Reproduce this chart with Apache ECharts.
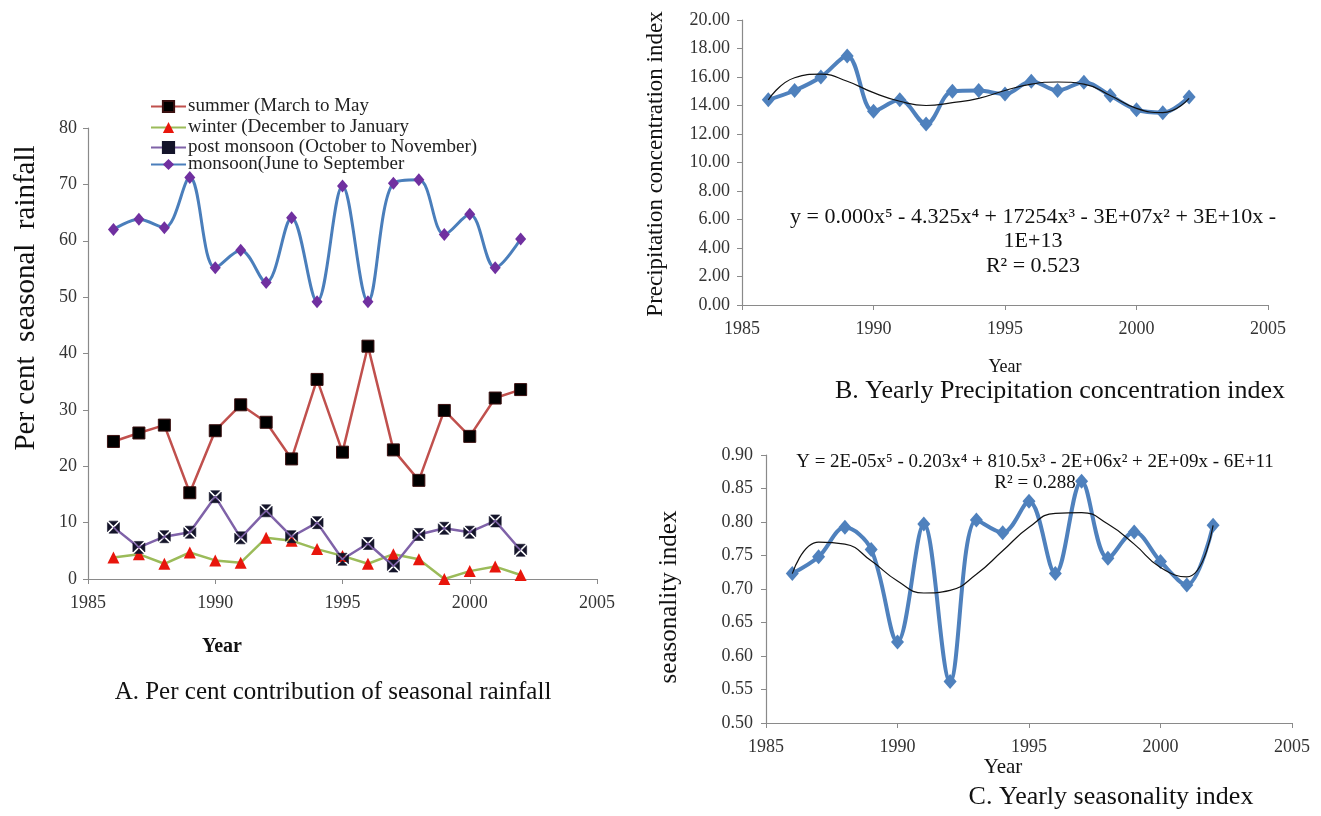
<!DOCTYPE html>
<html>
<head>
<meta charset="utf-8">
<script src="https://cdn.jsdelivr.net/npm/echarts@6/dist/echarts.min.js"></script>
<style>
html,body{margin:0;padding:0;background:#fff;}
#c{width:1321px;height:816px;}
</style>
</head>
<body>
<div id="c"></div>
<script>
// ---------- data ----------
const years = [1986,1987,1988,1989,1990,1991,1992,1993,1994,1995,1996,1997,1998,1999,2000,2001,2002];
const summer = [24.4,25.9,27.3,15.3,26.3,30.9,27.8,21.3,35.4,22.5,41.3,22.9,17.5,29.9,25.3,32.1,33.6];
const winter = [3.8,4.4,2.7,4.7,3.3,2.9,7.3,6.8,5.3,4.1,2.7,4.4,3.5,0.0,1.4,2.2,0.7];
const postMonsoon = [9.2,5.6,7.5,8.3,14.6,7.3,12.1,7.5,10.0,3.5,6.3,2.3,7.9,9.0,8.3,10.3,5.1];
const monsoon = [62.0,63.8,62.3,71.2,55.2,58.3,52.6,64.1,49.2,69.7,49.2,70.2,70.8,61.1,64.7,55.2,60.3];
const pci = [14.4,15.05,16.0,17.47,13.6,14.4,12.7,15.0,15.05,14.8,15.7,15.05,15.64,14.7,13.7,13.5,14.6];
const pciTrend = [14.4,15.95,16.2,15.7,14.9,14.3,14.0,14.2,14.5,15.05,15.5,15.65,15.5,14.7,13.8,13.5,14.5];
const si = [0.723,0.748,0.792,0.759,0.621,0.797,0.562,0.803,0.784,0.831,0.723,0.861,0.746,0.785,0.741,0.706,0.795];
const siTrend = [0.723,0.770,0.767,0.742,0.712,0.694,0.698,0.722,0.757,0.792,0.813,0.814,0.797,0.767,0.732,0.718,0.795];
const xTicks = [1985,1990,1995,2000,2005];
const legendNames = ['summer (March to May','winter (December to January','post monsoon (October to November)','monsoon(June to September'];

const pair = (ys) => years.map((y,i)=>[y, ys[i]]);
const FONT = "'Liberation Serif','Times New Roman',serif";
const axisCol = '#8a8a8a';
const labCol = '#333';

function xAxis(grid){
  return {type:'value', gridIndex:grid, min:xTicks[0], max:xTicks[xTicks.length-1], interval:5,
    axisLine:{show:true,lineStyle:{color:axisCol,width:1.2}},
    axisTick:{show:true,length:5,lineStyle:{color:axisCol}},
    splitLine:{show:false},
    axisLabel:{fontFamily:FONT,fontSize:18,color:labCol,margin:15,formatter:(v)=>String(v)}};
}
function yAxis(grid,min,max,interval,dec,margin){
  return {type:'value', gridIndex:grid, min:min, max:max, interval:interval,
    axisLine:{show:true,lineStyle:{color:axisCol,width:1.2}},
    axisTick:{show:true,length:5,lineStyle:{color:axisCol}},
    splitLine:{show:false},
    axisLabel:{fontFamily:FONT,fontSize:18,color:labCol,margin:margin,
      formatter:(v)=>dec>0? v.toFixed(dec) : String(Math.round(v))}};
}
function legendRow(name, top){
  return {orient:'vertical', left:150, top:top, itemWidth:35, itemHeight:14, padding:0,
    textStyle:{fontFamily:FONT,fontSize:19,color:'#222',padding:[0,0,0,-3]},
    data:[name]};
}

const xSquare = 'path://M1.2,0 L8.8,0 L5,3.8 Z M10,1.2 L10,8.8 L6.2,5 Z M8.8,10 L1.2,10 L5,6.2 Z M0,8.8 L0,1.2 L3.8,5 Z';

const option = {
  animation:false,
  backgroundColor:'#fff',
  textStyle:{fontFamily:FONT},
  grid:[
    {left:88, top:128, width:509, height:451},
    {left:742, top:20, width:526, height:285},
    {left:766, top:455, width:526, height:268}
  ],
  xAxis:[xAxis(0),xAxis(1),xAxis(2)],
  yAxis:[yAxis(0,0,80,10,0,11), yAxis(1,0,20,2,2,12), yAxis(2,0.5,0.9,0.05,2,13)],
  legend:[legendRow(legendNames[0],97), legendRow(legendNames[1],118), legendRow(legendNames[2],138), legendRow(legendNames[3],155)],
  series:[
    {name:legendNames[0], type:'line', xAxisIndex:0, yAxisIndex:0, data:pair(summer),
      lineStyle:{color:'#c0504d',width:2.5}, itemStyle:{color:'#000',borderColor:'#3a1010',borderWidth:1},
      symbol:'rect', symbolSize:12, z:3},
    {name:legendNames[1], type:'line', xAxisIndex:0, yAxisIndex:0, data:pair(winter),
      lineStyle:{color:'#9bbb59',width:2.5}, itemStyle:{color:'#e8160c'},
      symbol:'triangle', symbolSize:12, z:2},
    {name:legendNames[2], type:'line', xAxisIndex:0, yAxisIndex:0, data:pair(postMonsoon),
      lineStyle:{color:'#7f62a8',width:2.5}, itemStyle:{color:'#14142a',borderColor:'#14142a',borderWidth:0.6},
      symbol:xSquare, symbolSize:12, symbolKeepAspect:true, z:3},
    {name:legendNames[3], type:'line', xAxisIndex:0, yAxisIndex:0, data:pair(monsoon),
      smooth:0.35, lineStyle:{color:'#4a7ebb',width:3}, itemStyle:{color:'#7030a0'},
      symbol:'diamond', symbolSize:[11,13], z:3},
    {name:'PCI', type:'line', xAxisIndex:1, yAxisIndex:1, data:pair(pci),
      smooth:0.35, lineStyle:{color:'#4f81bd',width:4}, itemStyle:{color:'#4f81bd'},
      symbol:'diamond', symbolSize:[13,15], z:3},
    {name:'PCI trend', type:'line', xAxisIndex:1, yAxisIndex:1, data:pair(pciTrend),
      smooth:0.5, lineStyle:{color:'#111',width:1.2}, symbol:'none', z:4},
    {name:'SI', type:'line', xAxisIndex:2, yAxisIndex:2, data:pair(si),
      smooth:0.35, lineStyle:{color:'#4f81bd',width:4}, itemStyle:{color:'#4f81bd'},
      symbol:'diamond', symbolSize:[13,15], z:3},
    {name:'SI trend', type:'line', xAxisIndex:2, yAxisIndex:2, data:pair(siTrend),
      smooth:0.5, lineStyle:{color:'#111',width:1.2}, symbol:'none', z:4}
  ],
  graphic:[
    {type:'text', x:26, y:298, rotation:Math.PI/2, style:{text:'Per cent  seasonal  rainfall', font:"29px "+FONT, fill:'#111', textAlign:'center', textVerticalAlign:'middle'}},
    {type:'text', x:222, y:647, style:{text:'Year', font:"bold 20px "+FONT, fill:'#111', textAlign:'center', textVerticalAlign:'middle'}},
    {type:'text', x:333, y:692, style:{text:'A. Per cent contribution of seasonal rainfall', font:"25px "+FONT, fill:'#111', textAlign:'center', textVerticalAlign:'middle'}},

    {type:'text', x:656, y:164, rotation:Math.PI/2, style:{text:'Precipitation concentration index', font:"23px "+FONT, fill:'#111', textAlign:'center', textVerticalAlign:'middle'}},
    {type:'text', x:1033, y:217, style:{text:'y = 0.000x⁵ - 4.325x⁴ + 17254x³ - 3E+07x² + 3E+10x -', font:"22px "+FONT, fill:'#111', textAlign:'center', textVerticalAlign:'middle'}},
    {type:'text', x:1033, y:241, style:{text:'1E+13', font:"22px "+FONT, fill:'#111', textAlign:'center', textVerticalAlign:'middle'}},
    {type:'text', x:1033, y:266, style:{text:'R² = 0.523', font:"22px "+FONT, fill:'#111', textAlign:'center', textVerticalAlign:'middle'}},
    {type:'text', x:1005, y:367, style:{text:'Year', font:"18px "+FONT, fill:'#111', textAlign:'center', textVerticalAlign:'middle'}},
    {type:'text', x:1060, y:391, style:{text:'B. Yearly Precipitation concentration index', font:"26px "+FONT, fill:'#111', textAlign:'center', textVerticalAlign:'middle'}},

    {type:'text', x:669, y:597, rotation:Math.PI/2, style:{text:'seasonality index', font:"25px "+FONT, fill:'#111', textAlign:'center', textVerticalAlign:'middle'}},
    {type:'text', x:1035, y:462, style:{text:'Y = 2E-05x⁵ - 0.203x⁴ + 810.5x³ - 2E+06x² + 2E+09x - 6E+11', font:"19px "+FONT, fill:'#111', textAlign:'center', textVerticalAlign:'middle'}},
    {type:'text', x:1035, y:483, style:{text:'R² = 0.288', font:"19px "+FONT, fill:'#111', textAlign:'center', textVerticalAlign:'middle'}},
    {type:'text', x:1003, y:767, style:{text:'Year', font:"21px "+FONT, fill:'#111', textAlign:'center', textVerticalAlign:'middle'}},
    {type:'text', x:1111, y:797, style:{text:'C. Yearly seasonality index', font:"26px "+FONT, fill:'#111', textAlign:'center', textVerticalAlign:'middle'}}
  ]
};
const chart = echarts.init(document.getElementById('c'), null, {renderer:'canvas'});
chart.setOption(option);
</script>
</body>
</html>
